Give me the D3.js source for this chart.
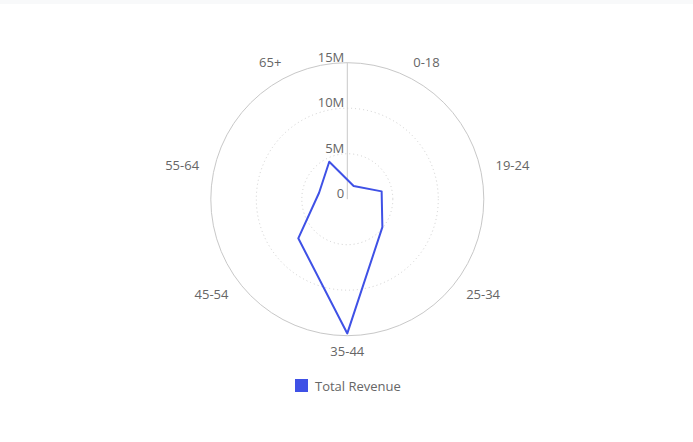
<!DOCTYPE html>
<html>
<head>
<meta charset="utf-8">
<script src="https://cdn.jsdelivr.net/npm/d3@7"></script>
<style>
  html, body { margin: 0; padding: 0; background: #fff; }
  body { width: 693px; height: 442px; overflow: hidden; font-family: "Open Sans", sans-serif; }
  .topbar { height: 4px; background: #f8f9fa; }
</style>
</head>
<body>
<div class="topbar"></div>
<div id="chart"></div>
<script>
  var categories = ['0-18', '19-24', '25-34', '35-44', '45-54', '55-64', '65+'];
  var revenue = [1600000, 3870000, 4930000, 14750000, 6890000, 3180000, 4570000];
  var ticks = [0, 5000000, 10000000, 15000000];
  var tickLabels = ['0', '5M', '10M', '15M'];
  var seriesName = 'Total Revenue';

  var width = 693, height = 438;
  var cx = 347.3, cy = 195.2, radius = 136.5;
  var color = '#3f51e6';

  var svg = d3.select('#chart').append('svg')
    .attr('width', width)
    .attr('height', height);

  var r = d3.scaleLinear().domain([0, 15000000]).range([0, radius]);
  var step = 2 * Math.PI / categories.length;
  var angle = d3.scaleLinear()
    .domain([0, categories.length])
    .range([step / 2, step / 2 + 2 * Math.PI]);

  var g = svg.append('g').attr('transform', 'translate(' + cx + ',' + cy + ')');

  // grid rings
  g.selectAll('circle.ring')
    .data(ticks.slice(1))
    .enter()
    .append('circle')
    .attr('class', 'ring')
    .attr('r', function(d) { return r(d); })
    .attr('fill', 'none')
    .attr('stroke', function(d, i) { return i == ticks.length - 2 ? '#c8c8c8' : '#cfcfcf'; })
    .attr('stroke-width', 1)
    .attr('stroke-dasharray', function(d, i) { return i == ticks.length - 2 ? null : '1,3'; });

  // radial axis line
  g.append('line')
    .attr('x1', 0).attr('y1', 0)
    .attr('x2', 0).attr('y2', -r(15000000))
    .attr('stroke', '#c8c8c8')
    .attr('stroke-width', 1);

  g.selectAll('text.tick')
    .data(ticks)
    .enter()
    .append('text')
    .attr('class', 'tick')
    .attr('x', -3)
    .attr('y', function(d) { return -r(d) - 6; })
    .attr('text-anchor', 'end')
    .attr('dominant-baseline', 'central')
    .attr('font-size', 13)
    .attr('fill', '#666')
    .text(function(d, i) { return tickLabels[i]; });

  // category labels
  var labelR = radius + 15.5;
  g.selectAll('text.cat')
    .data(categories)
    .enter()
    .append('text')
    .attr('class', 'cat')
    .attr('x', function(d, i) { return Math.sin(angle(i)) * labelR; })
    .attr('y', function(d, i) { return -Math.cos(angle(i)) * labelR; })
    .attr('text-anchor', function(d, i) {
      var s = Math.sin(angle(i));
      if (Math.abs(s) < 0.05) return 'middle';
      return s > 0 ? 'start' : 'end';
    })
    .attr('dominant-baseline', 'central')
    .attr('font-size', 13)
    .attr('fill', '#666')
    .text(function(d) { return d; });

  // series
  var line = d3.lineRadial()
    .angle(function(d, i) { return angle(i); })
    .radius(function(d) { return r(d); })
    .curve(d3.curveLinearClosed);

  g.append('path')
    .datum(revenue)
    .attr('d', line)
    .attr('fill', 'none')
    .attr('stroke', color)
    .attr('stroke-width', 2)
    .attr('stroke-linejoin', 'round');

  // legend
  var legend = svg.append('g').attr('transform', 'translate(295,375)');
  legend.append('rect')
    .attr('width', 13).attr('height', 13)
    .attr('fill', color);
  legend.append('text')
    .attr('x', 20).attr('y', 7)
    .attr('dominant-baseline', 'central')
    .attr('font-size', 13)
    .attr('fill', '#666')
    .text(seriesName);
</script>
</body>
</html>
